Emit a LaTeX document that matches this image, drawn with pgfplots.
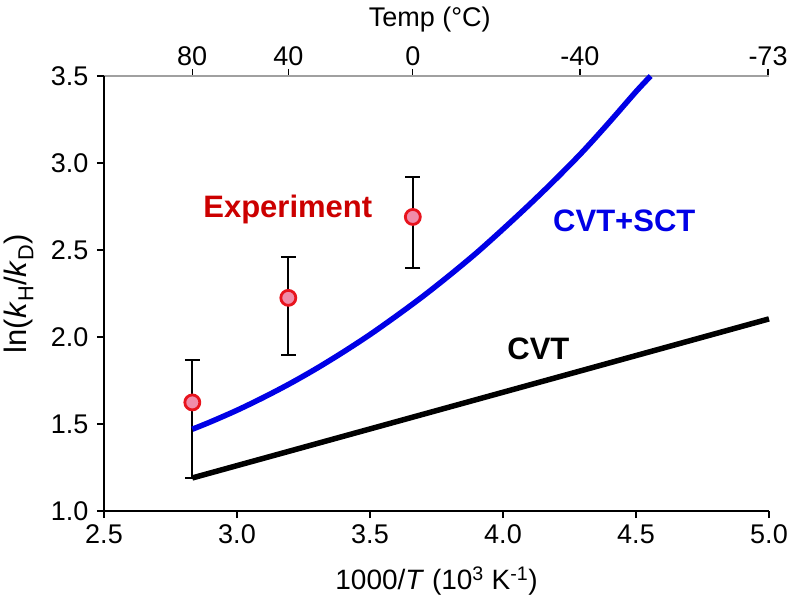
\documentclass[border=0pt]{standalone}
\usepackage{fontspec}
\setmainfont{Liberation Sans}
\usepackage{pgfplots}
\pgfplotsset{compat=1.18}
\definecolor{expred}{RGB}{204,0,0}
\definecolor{mkred}{RGB}{232,20,30}
\definecolor{mkfill}{RGB}{240,140,170}
\definecolor{sctblue}{RGB}{0,0,230}
\definecolor{topgray}{RGB}{160,160,160}
\begin{document}
\begin{tikzpicture}
\path[use as bounding box] (0,0) rectangle (796pt,598pt);
% top axis (temperature)
\begin{axis}[
  at={(104pt,87pt)}, anchor=south west, scale only axis,
  width=665pt, height=435pt,
  xmin=2.5, xmax=5.0, ymin=1.0, ymax=3.5,
  axis x line*=top, axis y line=none,
  x axis line style={-, line width=1.2pt, topgray},
  xtick={2.8317,3.1934,3.6610,4.2891,4.9963},
  xticklabels={80,40,0,-40,-73},
  tick align=outside, major tick length=7pt,
  tick style={line width=1.2pt, black},
  xticklabel style={font=\fontsize{27}{32}\selectfont},
  xlabel={Temp (°C)},
  every axis x label/.style={at={(axis description cs:0.49,1.129)}, anchor=center, font=\fontsize{27}{32}\selectfont},
]
\end{axis}
\begin{axis}[
  at={(104pt,87pt)}, anchor=south west, scale only axis,
  width=665pt, height=435pt,
  xmin=2.5, xmax=5.0, ymin=1.0, ymax=3.5,
  axis x line*=bottom, axis y line*=left,
  axis line style={-, line width=1.2pt, black},
  xtick={2.5,3.0,3.5,4.0,4.5,5.0},
  ytick={1.0,1.5,2.0,2.5,3.0,3.5},
  /pgf/number format/assume math mode=true,
  xticklabel style={/pgf/number format/.cd, fixed, fixed zerofill, precision=1, /tikz/.cd, yshift=-3pt},
  yticklabel style={/pgf/number format/.cd, fixed, fixed zerofill, precision=1, /tikz/.cd, xshift=-5pt},
  tick align=outside, major tick length=7pt,
  tick style={line width=1.2pt, black},
  ticklabel style={font=\fontsize{27}{32}\selectfont},
  xlabel={1000/\textit{T} (10\textsuperscript{3} K\textsuperscript{-1})},
  ylabel={ln(\textit{k}\textsubscript{H}/\textit{k}\textsubscript{D})},
  every axis x label/.style={at={(axis description cs:0.5,-0.16)}, anchor=center, font=\fontsize{28}{34}\selectfont},
  every axis y label/.style={at={(axis description cs:-0.128,0.5)}, rotate=90, anchor=center, font=\fontsize{31}{36}\selectfont},
  clip=false,
]
% experiment with error bars
\addplot[only marks, mark=*, mark size=7.5pt,
  mark options={draw=mkred, fill=mkfill, line width=2.8pt},
  error bars/.cd, y dir=both, y explicit,
  error bar style={black, line width=2pt},
  error mark options={rotate=90, mark size=7.5pt, black, line width=2pt}]
  table[x=x, y=y, y error plus=ep, y error minus=em] {
  x      y      ep     em
  2.832  1.624  0.246  0.434
  3.193  2.225  0.236  0.326
  3.661  2.690  0.232  0.296
};
% CVT
\addplot[black, line width=5.5pt] coordinates {(2.832,1.190) (5.0,2.104)};
% CVT+SCT
\addplot[sctblue, line width=5.5pt, smooth] coordinates {
  (2.832,1.470) (2.9,1.512) (3.0,1.579) (3.1,1.653) (3.2,1.733)
  (3.3,1.820) (3.4,1.914) (3.5,2.014) (3.6,2.122) (3.7,2.235)
  (3.8,2.356) (3.9,2.483) (4.0,2.620) (4.1,2.762) (4.2,2.910)
  (4.3,3.066) (4.4,3.235) (4.5,3.410) (4.555,3.500)
};
\node[anchor=base, text=expred, font=\bfseries\fontsize{31}{36}\selectfont] at (axis cs:3.191,2.688) {Experiment};
\node[anchor=base, text=sctblue, font=\bfseries\fontsize{31}{36}\selectfont] at (axis cs:4.456,2.607) {CVT+SCT};
\node[anchor=base, text=black, font=\bfseries\fontsize{31}{36}\selectfont] at (axis cs:4.133,1.870) {CVT};
\end{axis}
\end{tikzpicture}
\end{document}
